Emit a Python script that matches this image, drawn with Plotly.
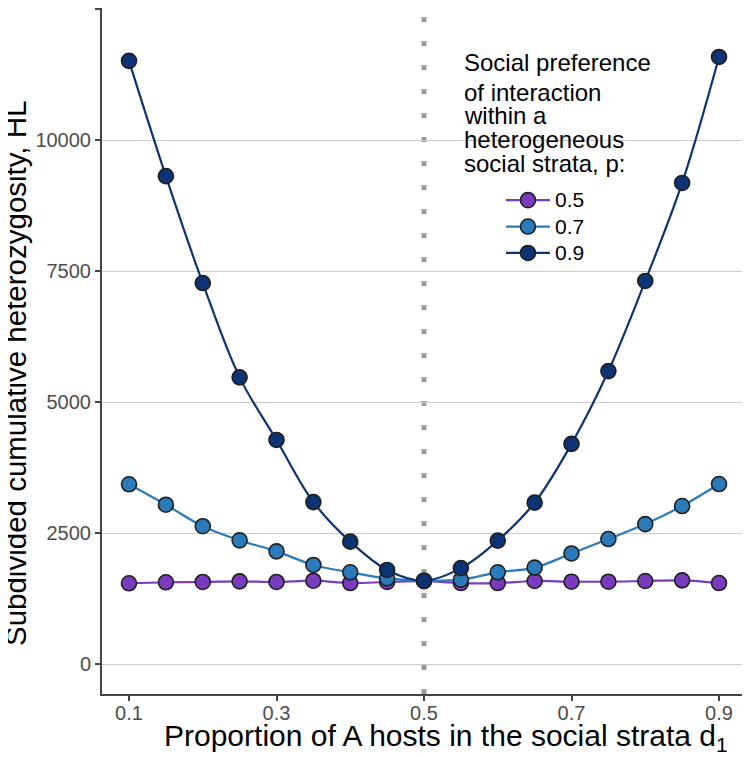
import plotly.graph_objects as go

# proportion of A hosts in the social strata
d1 = [0.1, 0.15, 0.2, 0.25, 0.3, 0.35, 0.4, 0.45, 0.5,
      0.55, 0.6, 0.65, 0.7, 0.75, 0.8, 0.85, 0.9]

# subdivided cumulative heterozygosity for each p
hl_05 = [1540, 1560, 1565, 1577, 1565, 1590, 1545, 1565, 1580,
         1545, 1545, 1584, 1571, 1571, 1584, 1596, 1545]
hl_07 = [3430, 3040, 2630, 2360, 2150, 1890, 1750, 1635, 1590,
         1610, 1750, 1840, 2110, 2385, 2670, 3015, 3435]
hl_09 = [11510, 9310, 7270, 5470, 4275, 3090, 2335, 1795, 1590,
         1830, 2355, 3080, 4200, 5590, 7310, 9180, 11585]

p_labels = ["0.5", "0.7", "0.9"]
colors = ["#7B3BBF", "#2B7BBA", "#0C3475"]

x_ticks = [0.1, 0.3, 0.5, 0.7, 0.9]
y_ticks = [0, 2500, 5000, 7500, 10000, 12500]

legend_title = ["Social preference", "of interaction", "within a",
                "heterogeneous", "social strata, p:"]

FONT = "Liberation Sans, Arial, sans-serif"

fig = go.Figure()

for name, vals, col in zip(p_labels, [hl_05, hl_07, hl_09], colors):
    fig.add_trace(go.Scatter(
        x=d1, y=vals, mode="lines+markers",
        # bigger label text, legend row spacing still follows the 18px legend font
        name='<span style="font-size:21px">' + name + '</span>',
        line=dict(color=col, width=2.2, shape="spline", smoothing=1.0),
        marker=dict(size=15, color=col, line=dict(color="#1f1f1f", width=1.6)),
    ))

# white legend box hides the grid lines behind it
fig.add_shape(type="rect", xref="paper", yref="paper", x0=0.4814, x1=1.0,
              y0=0.443, y1=0.968, fillcolor="white", line=dict(width=0),
              layer="between")

# dotted line at d1 = 0.5
fig.add_shape(type="line", xref="x", yref="paper", x0=0.5, x1=0.5, y0=0, y1=1,
              line=dict(color="#9a9a9a", width=5, dash="5px,19px"), layer="between")

# legend title, one line at a time (tight line spacing)
title_y = [0.9205, 0.8768, 0.8433, 0.8083, 0.7733]
for txt, ty in zip(legend_title, title_y):
    fig.add_annotation(
        text=txt, xref="paper", yref="paper", x=0.5573, y=ty,
        xanchor="left", yanchor="middle", showarrow=False,
        font=dict(family=FONT, size=24, color="black"),
    )

fig.add_annotation(
    text="Proportion of A hosts in the social strata d<sub>1</sub>",
    xref="paper", yref="paper", x=0.533, y=-0.063, xanchor="center", yanchor="middle",
    showarrow=False,
    font=dict(family=FONT, size=30, color="black"),
)

fig.add_annotation(
    text="Subdivided cumulative heterozygosity, HL",
    xref="paper", yref="paper", x=-0.133, y=0.468, xanchor="center", yanchor="middle",
    textangle=-90, showarrow=False,
    font=dict(family=FONT, size=29.5, color="black"),
)

fig.update_layout(
    width=742, height=749,
    margin=dict(l=94, r=2, t=0, b=63),
    paper_bgcolor="white", plot_bgcolor="white",
    font=dict(family=FONT, color="black"),
    showlegend=True,
    legend=dict(
        x=0.6176, y=0.7464, xanchor="left", yanchor="top",
        bgcolor="rgba(0,0,0,0)", font=dict(family=FONT, size=18, color="black"),
        tracegroupgap=0, itemwidth=44,
    ),
    xaxis=dict(
        range=[0.0634, 0.9393], tickvals=x_ticks, ticktext=[str(v) for v in x_ticks],
        showgrid=False, zeroline=False,
        showline=True, linecolor="#444444", linewidth=2,
        ticks="outside", ticklen=5, tickcolor="#444444", tickwidth=1.5,
        ticklabelstandoff=-5,
        tickfont=dict(family=FONT, size=20, color="#4d4d4d"),
    ),
    yaxis=dict(
        range=[-572.5, 12519], tickvals=y_ticks, ticktext=[str(v) for v in y_ticks],
        showgrid=True, gridcolor="#cccccc", gridwidth=1, zeroline=False,
        showline=True, linecolor="#444444", linewidth=2,
        ticks="outside", ticklen=5, tickcolor="#444444", tickwidth=1.5,
        tickfont=dict(family=FONT, size=20, color="#4d4d4d"),
    ),
)

fig.write_html("out.html")
